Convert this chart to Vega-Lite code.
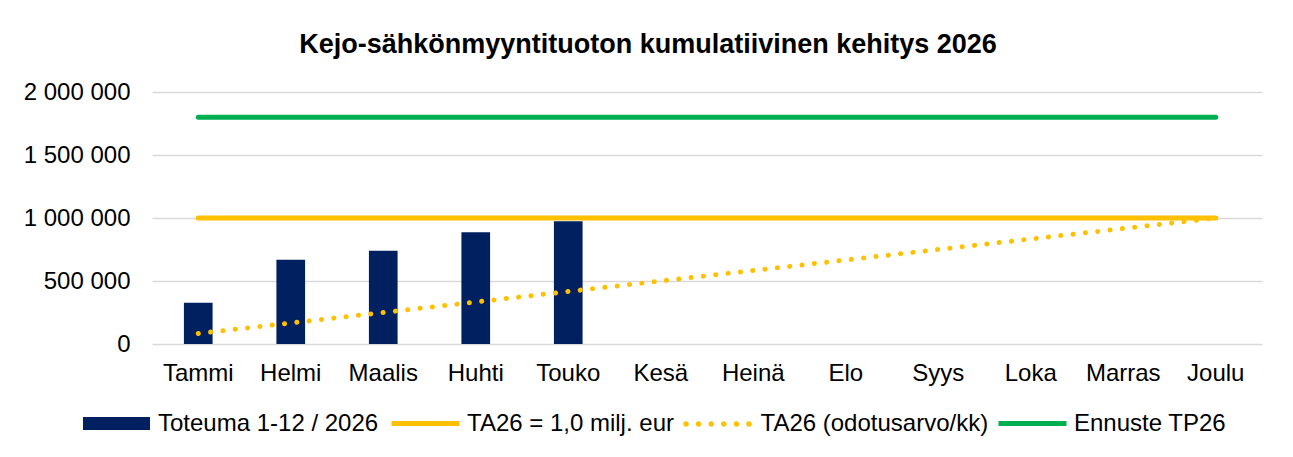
{
  "$schema": "https://vega.github.io/schema/vega-lite/v6.json",
  "width": 1110,
  "height": 252,
  "autosize": {"type": "none"},
  "padding": {"left": 152, "top": 92, "right": 31, "bottom": 113},
  "background": "white",
  "title": {
    "text": "Kejo-sähkönmyyntituoton kumulatiivinen kehitys 2026",
    "font": "Liberation Sans",
    "fontSize": 27,
    "fontWeight": "bold",
    "color": "black",
    "anchor": "middle",
    "frame": "group",
    "dx": -59,
    "offset": 21
  },
  "config": {
    "font": "Liberation Sans",
    "view": {"stroke": null},
    "locale": {"number": {"decimal": ",", "thousands": " ", "grouping": [3], "currency": ["", " €"]}}
  },
  "data": {
    "values": [
      {"month": "Tammi", "series": "Toteuma 1-12 / 2026", "value": 328000},
      {"month": "Helmi", "series": "Toteuma 1-12 / 2026", "value": 669000},
      {"month": "Maalis", "series": "Toteuma 1-12 / 2026", "value": 740000},
      {"month": "Huhti", "series": "Toteuma 1-12 / 2026", "value": 886000},
      {"month": "Touko", "series": "Toteuma 1-12 / 2026", "value": 975000},
      {"month": "Tammi", "series": "TA26 = 1,0 milj. eur", "value": 1000000},
      {"month": "Helmi", "series": "TA26 = 1,0 milj. eur", "value": 1000000},
      {"month": "Maalis", "series": "TA26 = 1,0 milj. eur", "value": 1000000},
      {"month": "Huhti", "series": "TA26 = 1,0 milj. eur", "value": 1000000},
      {"month": "Touko", "series": "TA26 = 1,0 milj. eur", "value": 1000000},
      {"month": "Kesä", "series": "TA26 = 1,0 milj. eur", "value": 1000000},
      {"month": "Heinä", "series": "TA26 = 1,0 milj. eur", "value": 1000000},
      {"month": "Elo", "series": "TA26 = 1,0 milj. eur", "value": 1000000},
      {"month": "Syys", "series": "TA26 = 1,0 milj. eur", "value": 1000000},
      {"month": "Loka", "series": "TA26 = 1,0 milj. eur", "value": 1000000},
      {"month": "Marras", "series": "TA26 = 1,0 milj. eur", "value": 1000000},
      {"month": "Joulu", "series": "TA26 = 1,0 milj. eur", "value": 1000000},
      {"month": "Tammi", "series": "TA26 (odotusarvo/kk)", "value": 83333},
      {"month": "Helmi", "series": "TA26 (odotusarvo/kk)", "value": 166667},
      {"month": "Maalis", "series": "TA26 (odotusarvo/kk)", "value": 250000},
      {"month": "Huhti", "series": "TA26 (odotusarvo/kk)", "value": 333333},
      {"month": "Touko", "series": "TA26 (odotusarvo/kk)", "value": 416667},
      {"month": "Kesä", "series": "TA26 (odotusarvo/kk)", "value": 500000},
      {"month": "Heinä", "series": "TA26 (odotusarvo/kk)", "value": 583333},
      {"month": "Elo", "series": "TA26 (odotusarvo/kk)", "value": 666667},
      {"month": "Syys", "series": "TA26 (odotusarvo/kk)", "value": 750000},
      {"month": "Loka", "series": "TA26 (odotusarvo/kk)", "value": 833333},
      {"month": "Marras", "series": "TA26 (odotusarvo/kk)", "value": 916667},
      {"month": "Joulu", "series": "TA26 (odotusarvo/kk)", "value": 1000000},
      {"month": "Tammi", "series": "Ennuste TP26", "value": 1800000},
      {"month": "Helmi", "series": "Ennuste TP26", "value": 1800000},
      {"month": "Maalis", "series": "Ennuste TP26", "value": 1800000},
      {"month": "Huhti", "series": "Ennuste TP26", "value": 1800000},
      {"month": "Touko", "series": "Ennuste TP26", "value": 1800000},
      {"month": "Kesä", "series": "Ennuste TP26", "value": 1800000},
      {"month": "Heinä", "series": "Ennuste TP26", "value": 1800000},
      {"month": "Elo", "series": "Ennuste TP26", "value": 1800000},
      {"month": "Syys", "series": "Ennuste TP26", "value": 1800000},
      {"month": "Loka", "series": "Ennuste TP26", "value": 1800000},
      {"month": "Marras", "series": "Ennuste TP26", "value": 1800000},
      {"month": "Joulu", "series": "Ennuste TP26", "value": 1800000}
    ]
  },
  "encoding": {
    "x": {
      "field": "month",
      "type": "nominal",
      "sort": ["Tammi", "Helmi", "Maalis", "Huhti", "Touko", "Kesä", "Heinä", "Elo", "Syys", "Loka", "Marras", "Joulu"],
      "scale": {
        "domain": ["Tammi", "Helmi", "Maalis", "Huhti", "Touko", "Kesä", "Heinä", "Elo", "Syys", "Loka", "Marras", "Joulu"],
        "paddingInner": 0.69,
        "paddingOuter": 0.345
      },
      "axis": {
        "title": null,
        "labelAngle": 0,
        "labelFontSize": 24,
        "labelColor": "black",
        "labelPadding": 17,
        "ticks": false,
        "domain": false,
        "grid": false
      }
    },
    "y": {
      "field": "value",
      "type": "quantitative",
      "scale": {"domain": [0, 2000000], "nice": false, "zero": true},
      "axis": {
        "title": null,
        "values": [0, 500000, 1000000, 1500000, 2000000],
        "format": ",d",
        "labelFontSize": 24,
        "labelColor": "black",
        "labelPadding": 22,
        "ticks": false,
        "domain": false,
        "grid": true,
        "gridColor": "#D9D9D9",
        "gridWidth": 1.5
      }
    }
  },
  "layer": [
    {
      "transform": [{"filter": "datum.series === 'Toteuma 1-12 / 2026'"}],
      "mark": {"type": "bar"},
      "encoding": {
        "fill": {
          "field": "series",
          "type": "nominal",
          "scale": {"domain": ["Toteuma 1-12 / 2026"], "range": ["#002060"]},
          "legend": {
            "orient": "none",
            "legendX": -69,
            "legendY": 298,
            "title": null,
            "symbolType": "M-1,-0.194H1V0.194H-1Z",
            "symbolSize": 4489,
            "symbolStrokeWidth": 0,
            "labelFontSize": 24,
            "labelColor": "black",
            "labelOffset": 8,
            "labelLimit": 500
          }
        }
      }
    },
    {
      "transform": [{"filter": "datum.series === 'TA26 = 1,0 milj. eur'"}],
      "mark": {"type": "line", "strokeWidth": 5, "strokeCap": "round"},
      "encoding": {
        "stroke": {
          "field": "series",
          "type": "nominal",
          "scale": {"domain": ["TA26 = 1,0 milj. eur"], "range": ["#FFC000"]},
          "legend": {
            "orient": "none",
            "legendX": 237,
            "legendY": 295,
            "title": null,
            "symbolType": "stroke",
            "symbolSize": 4624,
            "symbolStrokeWidth": 5,
            "labelFontSize": 24,
            "labelColor": "black",
            "labelOffset": 5,
            "labelLimit": 500
          }
        }
      }
    },
    {
      "transform": [{"filter": "datum.series === 'TA26 (odotusarvo/kk)'"}],
      "mark": {"type": "line", "strokeWidth": 5, "strokeCap": "round", "strokeDash": [0.1, 12.3]},
      "encoding": {
        "stroke": {
          "field": "series",
          "type": "nominal",
          "scale": {"domain": ["TA26 (odotusarvo/kk)"], "range": ["#FFC000"]},
          "legend": {
            "orient": "none",
            "legendX": 529.5,
            "legendY": 296,
            "title": null,
            "symbolType": "M-0.9554,0a0.0294,0.0294 0 1,0 0.0588,0a0.0294,0.0294 0 1,0 -0.0588,0M-0.5854,0a0.0294,0.0294 0 1,0 0.0588,0a0.0294,0.0294 0 1,0 -0.0588,0M-0.2144,0a0.0294,0.0294 0 1,0 0.0588,0a0.0294,0.0294 0 1,0 -0.0588,0M0.1556,0a0.0294,0.0294 0 1,0 0.0588,0a0.0294,0.0294 0 1,0 -0.0588,0M0.5266,0a0.0294,0.0294 0 1,0 0.0588,0a0.0294,0.0294 0 1,0 -0.0588,0M0.8966,0a0.0294,0.0294 0 1,0 0.0588,0a0.0294,0.0294 0 1,0 -0.0588,0",
            "symbolSize": 4624,
            "symbolStrokeWidth": 3.5,
            "symbolFillColor": "#FFC000",
            "labelFontSize": 24,
            "labelColor": "black",
            "labelOffset": 7,
            "labelLimit": 500
          }
        }
      }
    },
    {
      "transform": [{"filter": "datum.series === 'Ennuste TP26'"}],
      "mark": {"type": "line", "strokeWidth": 5, "strokeCap": "round"},
      "encoding": {
        "stroke": {
          "field": "series",
          "type": "nominal",
          "scale": {"domain": ["Ennuste TP26"], "range": ["#00B050"]},
          "legend": {
            "orient": "none",
            "legendX": 844,
            "legendY": 295,
            "title": null,
            "symbolType": "stroke",
            "symbolSize": 4624,
            "symbolStrokeWidth": 5,
            "labelFontSize": 24,
            "labelColor": "black",
            "labelOffset": 5,
            "labelLimit": 500
          }
        }
      }
    }
  ],
  "resolve": {"scale": {"stroke": "independent"}, "legend": {"stroke": "independent"}}
}
